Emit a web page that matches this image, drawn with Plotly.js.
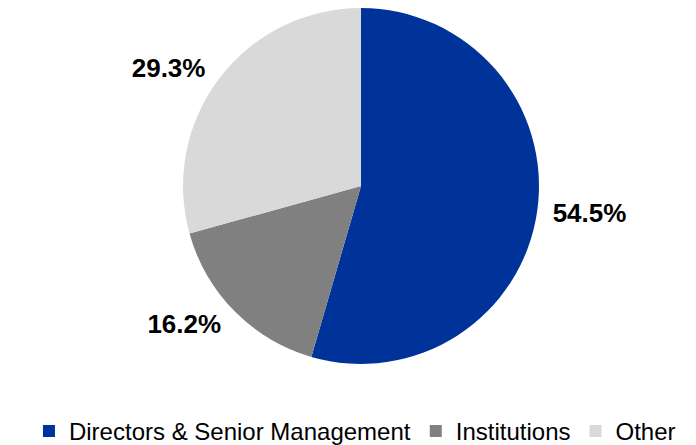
<!DOCTYPE html>
<html><head><meta charset="utf-8">
<script src="https://cdn.plot.ly/plotly-3.0.1.min.js"></script>
<style>html,body{margin:0;padding:0;background:#fff}#chart{width:696px;height:445px}</style>
</head><body><div id="chart"></div>
<script>
const categories = ["Directors & Senior Management", "Institutions", "Other"];
const shares = [54.5, 16.2, 29.3];
const colors = ["#003399", "#808080", "#D9D9D9"];

const FONT = "Liberation Sans, Arial, sans-serif";
// visible pie
const pieTrace = {
  type: "pie",
  labels: categories,
  values: shares,
  sort: false,
  direction: "clockwise",
  rotation: 0,
  marker: {colors: colors, line: {width: 0}},
  textinfo: "none",
  automargin: false,
  domain: {x: [0.263, 0.7744], y: [0.182, 0.982]},
  hoverinfo: "none"
};
// transparent companion pie, slightly larger, carrying the outside percentage labels
const labelTrace = {
  type: "pie",
  labels: categories,
  values: shares,
  sort: false,
  direction: "clockwise",
  rotation: 0,
  showlegend: false,
  marker: {colors: ["rgba(0,0,0,0)", "rgba(0,0,0,0)", "rgba(0,0,0,0)"], line: {width: 0}},
  textposition: "outside",
  texttemplate: "%{value:.1f}%",
  textfont: {family: FONT, size: 26, color: "#000", weight: "bold"},
  automargin: false,
  domain: {x: [0.2514, 0.7859], y: [0.164, 1.0]},
  hoverinfo: "none"
};
const layout = {
  width: 696, height: 445,
  margin: {l: 0, r: 0, t: 0, b: 0, autoexpand: false},
  paper_bgcolor: "#fff",
  showlegend: true,
  legend: {orientation: "h", x: 0.51, xanchor: "center", y: -0.02, yanchor: "bottom",
    font: {family: FONT, size: 24, color: "#000"},
    traceorder: "normal", itemwidth: 30},
  font: {family: FONT}
};
Plotly.newPlot("chart", [pieTrace, labelTrace], layout, {displayModeBar: false, staticPlot: true});
</script></body></html>
